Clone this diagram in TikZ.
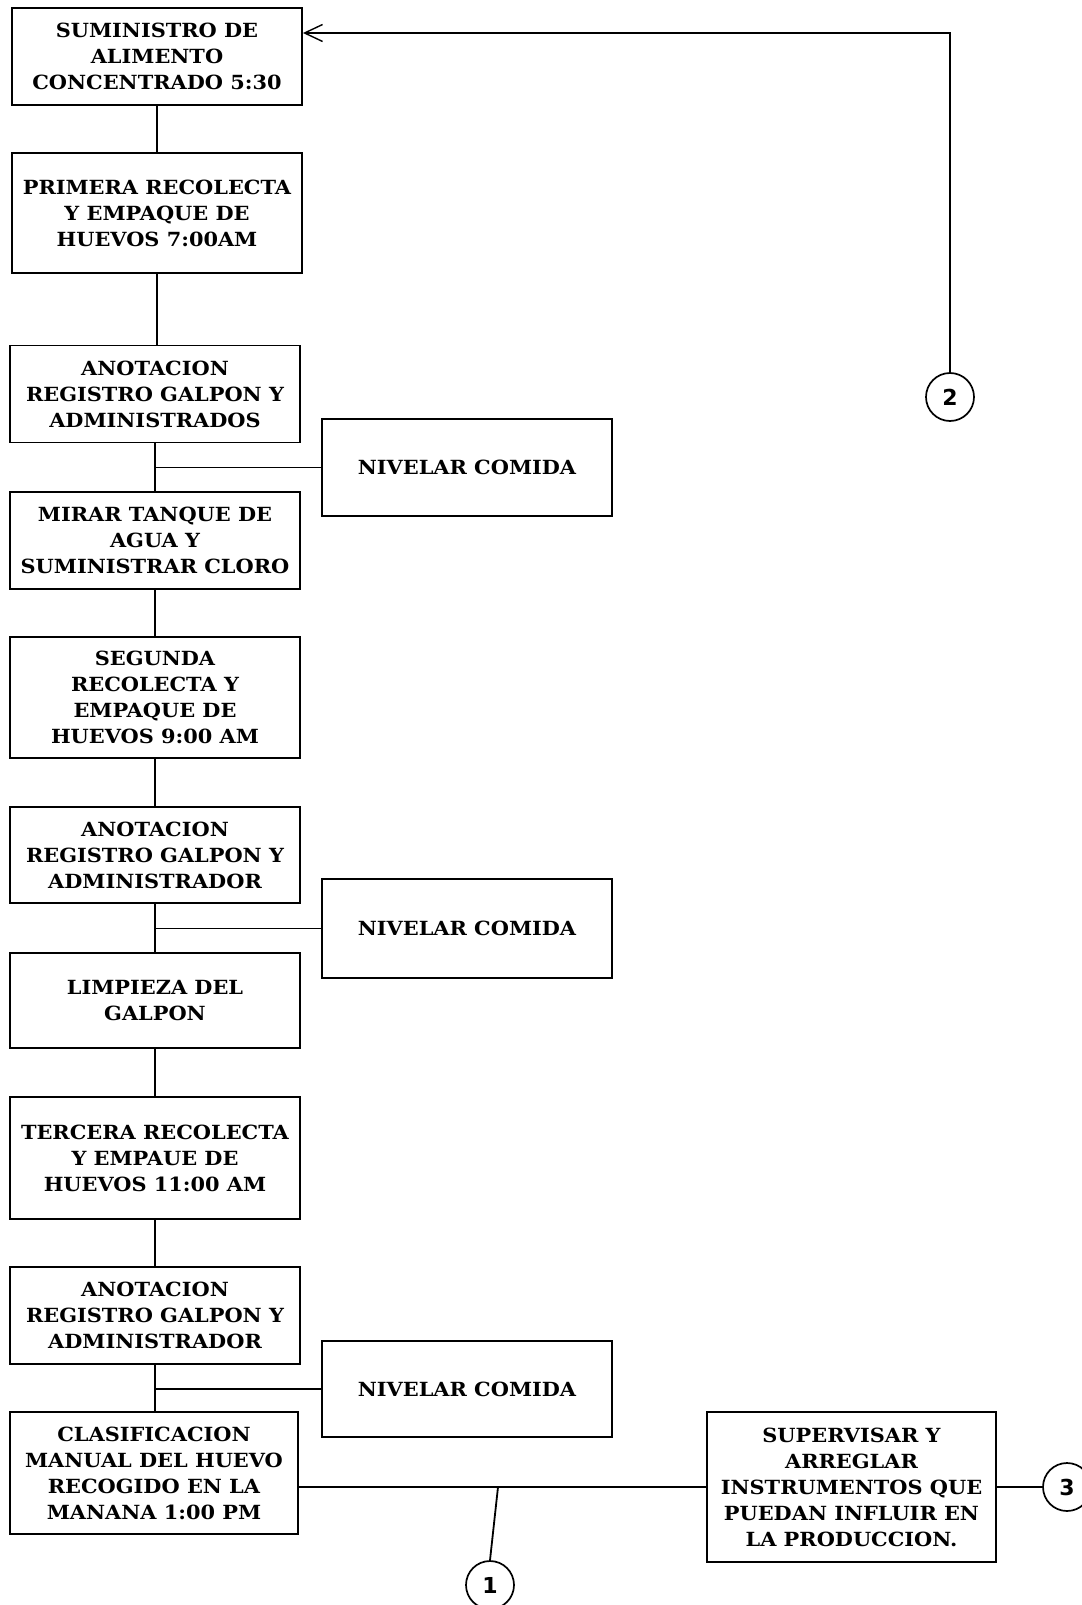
\documentclass[tikz,border=0pt]{standalone}
\usepackage{fontspec}
\setmainfont{DejaVu Serif}[FakeStretch=1.07]
\newfontfamily\circfont{DejaVu Sans}
\usetikzlibrary{arrows.meta}
\tikzset{
  box/.style={draw, line width=1.9pt, rectangle, minimum width=290pt, align=center,
    font=\fontsize{19.5}{26}\selectfont\bfseries, inner sep=0pt},
  conn/.style={line width=1.8pt},
  circ/.style={draw, circle, line width=1.7pt, minimum size=48pt, inner sep=0pt,
    font=\circfont\fontsize{22}{22}\selectfont\bfseries},
}
\begin{document}
\begin{tikzpicture}[x=1pt,y=-1pt]
\fill[white] (0,0) rectangle (1081,1605);
\useasboundingbox (0,0) rectangle (1081,1605);
% main column
\node[box, minimum height=97pt]  (b1) at (157,56.5) {SUMINISTRO DE\\ALIMENTO\\CONCENTRADO 5:30};
\node[box, minimum height=120pt] (b2) at (157,213) {PRIMERA RECOLECTA\\Y EMPAQUE DE\\HUEVOS 7:00AM};
\node[box, minimum height=97pt]  (b3) at (155,394) {ANOTACION\\REGISTRO GALPON Y\\ADMINISTRADOS};
\node[box, minimum height=97pt]  (b4) at (155,540.5) {MIRAR TANQUE DE\\AGUA Y\\SUMINISTRAR CLORO};
\node[box, minimum height=121pt] (b5) at (155,697.5) {SEGUNDA\\RECOLECTA Y\\EMPAQUE DE\\HUEVOS 9:00 AM};
\node[box, minimum height=96pt]  (b6) at (155,855) {ANOTACION\\REGISTRO GALPON Y\\ADMINISTRADOR};
\node[box, minimum height=95pt]  (b7) at (155,1000.5) {LIMPIEZA DEL\\GALPON};
\node[box, minimum height=122pt] (b8) at (155,1158) {TERCERA RECOLECTA\\Y EMPAUE DE\\HUEVOS 11:00 AM};
\node[box, minimum height=97pt]  (b9) at (155,1315.5) {ANOTACION\\REGISTRO GALPON Y\\ADMINISTRADOR};
\node[box, minimum height=122pt, minimum width=288pt] (b10) at (154,1473) {CLASIFICACION\\MANUAL DEL HUEVO\\RECOGIDO EN LA\\MANANA 1:00 PM};
% side boxes
\node[box, minimum height=97pt]  (n1) at (467,467.5) {NIVELAR COMIDA};
\node[box, minimum height=99pt]  (n2) at (467,928.5) {NIVELAR COMIDA};
\node[box, minimum height=96pt]  (n3) at (467,1389) {NIVELAR COMIDA};
\node[box, minimum height=150pt, minimum width=289pt] (b11) at (851.5,1487) {SUPERVISAR Y\\ARREGLAR\\INSTRUMENTOS QUE\\PUEDAN INFLUIR EN\\LA PRODUCCION.};
% connectors (circles)
\node[circ] (c2) at (950,397) {2};
\node[circ] (c1) at (490,1585) {1};
\node[circ] (c3) at (1067,1487) {3};
% main vertical links
\draw[conn] (b1.south -| b2.north) -- (b2.north);
\draw[conn] (b2.south) -- (b2.south |- b3.north);
\draw[conn] (b3.south) -- (b4.north);
\draw[conn] (b4.south) -- (b5.north);
\draw[conn] (b5.south) -- (b6.north);
\draw[conn] (b6.south) -- (b7.north);
\draw[conn] (b7.south) -- (b8.north);
\draw[conn] (b8.south) -- (b9.north);
\draw[conn] (b9.south) -- (b9.south |- b10.north);
% side links
\draw[conn] (b3.south |- n1.west) -- (n1.west);
\draw[conn] (b6.south |- n2.west) -- (n2.west);
\draw[conn] (b9.south |- n3.west) -- (n3.west);
% bottom links
\draw[conn] (b11.west -| b10.east) -- (b11.west);
\coordinate (j) at (498,1487);
\draw[conn] (j) -- (c1.north);
\draw[conn] (b11.east) -- (c3.west);
% feedback arrow from 2
\coordinate (corner) at (950,33);
\draw[conn, -{Straight Barb[length=18pt,width=17pt,line width=1.4pt]}] (c2.north) -- (corner) -- (corner -| b1.east);
\end{tikzpicture}
\end{document}
